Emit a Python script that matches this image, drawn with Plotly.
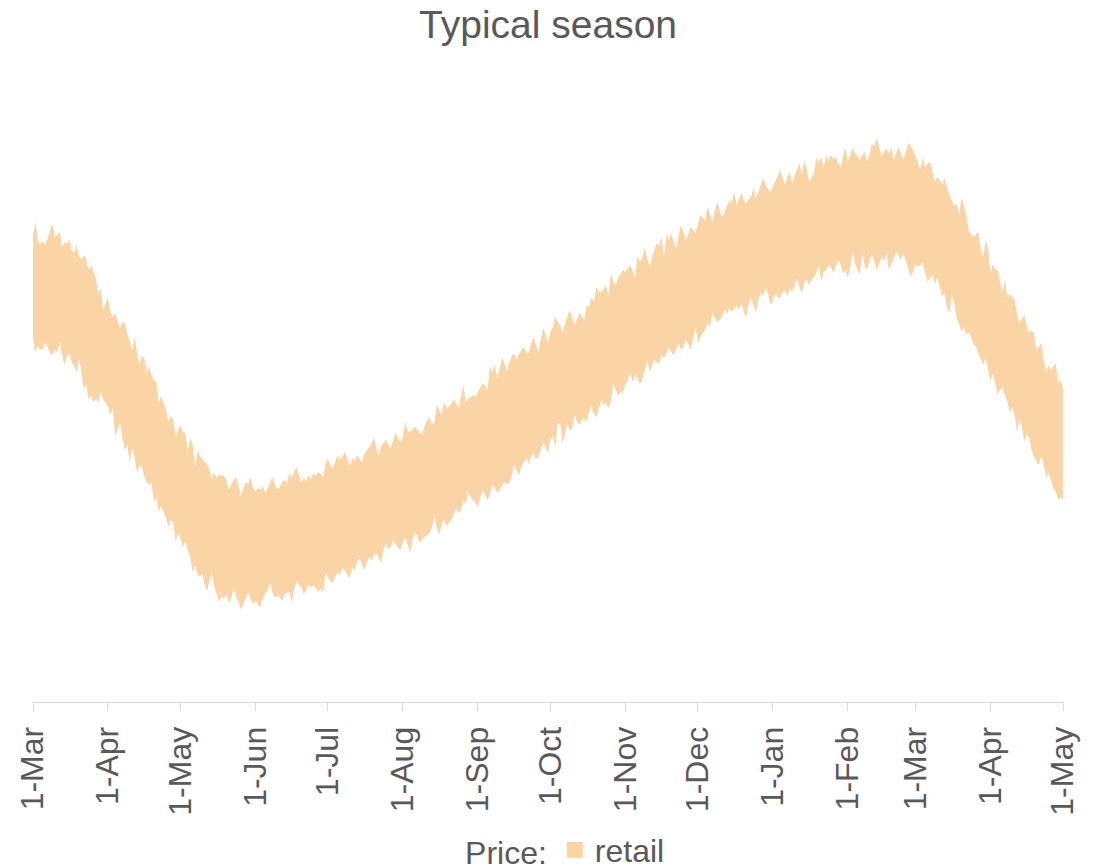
import pandas as pd
import plotly.graph_objects as go

# chart data: daily retail price band (low / high) over one season
START_DATE = '2021-03-01'
END_DATE = '2022-05-01'
SERIES_NAME = 'retail'
LEGEND_TITLE = 'Price:'
CHART_TITLE = 'Typical season'

PRICE_HIGH = [
    467, 480, 462, 458, 461, 457, 463, 470, 478, 465,
    468, 470, 455, 460, 458, 463, 452, 449, 457, 446,
    442, 447, 443, 432, 437, 430, 424, 407, 414, 392,
    398, 404, 390, 385, 389, 381, 374, 380, 379, 368,
    360, 352, 364, 350, 337, 346, 344, 330, 335, 327,
    322, 320, 299, 306, 300, 292, 280, 286, 282, 265,
    272, 277, 270, 269, 250, 264, 258, 235, 252, 246,
    243, 240, 239, 232, 224, 230, 224, 228, 226, 227,
    221, 212, 218, 222, 225, 216, 205, 214, 220, 218,
    225, 215, 210, 214, 212, 216, 209, 213, 220, 225,
    218, 212, 214, 220, 222, 219, 229, 224, 230, 235,
    226, 219, 224, 221, 227, 223, 229, 226, 230, 228,
    225, 238, 244, 236, 234, 240, 247, 242, 246, 250,
    243, 235, 244, 241, 247, 243, 240, 248, 251, 255,
    258, 265, 254, 247, 256, 259, 262, 257, 254, 262,
    269, 264, 259, 266, 280, 271, 270, 273, 275, 272,
    270, 267, 277, 281, 285, 277, 280, 297, 291, 287,
    300, 294, 295, 298, 302, 299, 294, 305, 317, 299,
    304, 305, 307, 305, 310, 314, 319, 316, 312, 335,
    330, 337, 324, 333, 345, 338, 330, 340, 346, 349,
    342, 348, 352, 355, 350, 349, 358, 365, 357, 350,
    362, 374, 368, 359, 370, 375, 385, 380, 377, 370,
    378, 384, 392, 385, 377, 383, 389, 386, 382, 397,
    395, 405, 400, 415, 411, 409, 413, 417, 405, 429,
    420, 417, 424, 428, 432, 430, 434, 437, 431, 424,
    446, 440, 445, 454, 444, 434, 445, 451, 459, 456,
    465, 445, 469, 462, 469, 460, 454, 466, 477, 470,
    462, 468, 475, 472, 469, 478, 487, 484, 482, 495,
    488, 480, 491, 500, 492, 484, 490, 496, 502, 499,
    510, 497, 503, 509, 502, 499, 503, 505, 514, 504,
    510, 516, 524, 518, 513, 510, 515, 520, 526, 532,
    524, 517, 525, 530, 519, 527, 533, 539, 527, 542,
    533, 520, 525, 529, 544, 540, 545, 534, 547, 541,
    547, 543, 545, 538, 535, 546, 555, 540, 548, 554,
    549, 545, 542, 547, 550, 540, 548, 559, 556, 564,
    553, 545, 550, 554, 548, 555, 542, 549, 555, 548,
    542, 550, 559, 556, 552, 546, 539, 532, 545, 535,
    538, 540, 531, 520, 525, 522, 517, 524, 515, 507,
    502, 495, 499, 487, 504, 497, 486, 472, 468, 465,
    468, 470, 452, 445, 462, 454, 429, 438, 433, 432,
    420, 410, 422, 404, 408, 405, 402, 388, 379, 383,
    387, 376, 369, 372, 369, 352, 356, 359, 342, 330,
    337, 333, 335, 339, 319, 322, 314,
]

PRICE_LOW = [
    365, 350, 356, 352, 353, 359, 355, 349, 347, 352,
    349, 360, 348, 337, 345, 349, 340, 336, 329, 343,
    330, 312, 318, 302, 306, 300, 303, 299, 310, 303,
    299, 295, 287, 294, 265, 272, 279, 264, 252, 258,
    239, 254, 245, 229, 236, 235, 226, 220, 217, 220,
    200, 205, 190, 196, 190, 184, 175, 182, 179, 160,
    169, 164, 155, 160, 152, 145, 130, 136, 128, 125,
    128, 117, 110, 122, 129, 115, 108, 100, 106, 103,
    108, 99, 104, 114, 106, 100, 92, 98, 104, 110,
    103, 98, 101, 97, 95, 103, 108, 112, 119, 110,
    104, 107, 105, 101, 108, 109, 110, 99, 113, 121,
    117, 115, 108, 112, 118, 114, 117, 113, 110, 114,
    109, 130, 124, 121, 119, 126, 129, 127, 134, 131,
    128, 124, 135, 131, 140, 144, 138, 132, 139, 145,
    142, 147, 149, 144, 139, 152, 159, 153, 155, 162,
    158, 154, 152, 160, 165, 157, 149, 162, 170, 165,
    159, 163, 165, 167, 169, 175, 185, 174, 167, 178,
    182, 176, 179, 182, 188, 194, 189, 192, 202, 198,
    210, 205, 202, 199, 195, 204, 212, 207, 202, 208,
    217, 214, 209, 212, 216, 220, 218, 219, 226, 237,
    231, 227, 235, 240, 244, 238, 246, 249, 243, 245,
    252, 259, 255, 249, 262, 266, 255, 278, 280, 259,
    268, 279, 271, 274, 287, 280, 277, 282, 284, 280,
    291, 295, 288, 285, 293, 302, 297, 299, 294, 300,
    319, 312, 306, 310, 309, 318, 322, 329, 320, 327,
    324, 318, 322, 331, 342, 330, 336, 342, 340, 338,
    347, 344, 349, 354, 350, 347, 353, 359, 352, 355,
    362, 358, 352, 363, 375, 359, 364, 369, 372, 379,
    375, 389, 384, 380, 382, 386, 392, 388, 394, 390,
    393, 397, 392, 399, 390, 385, 398, 404, 396, 390,
    402, 409, 406, 415, 408, 397, 402, 409, 405, 404,
    410, 412, 406, 414, 410, 416, 425, 414, 409, 420,
    422, 417, 422, 426, 429, 437, 420, 430, 432, 437,
    435, 429, 436, 442, 438, 429, 431, 424, 435, 449,
    438, 432, 427, 450, 436, 432, 441, 449, 440, 432,
    438, 445, 442, 449, 432, 438, 444, 450, 446, 442,
    449, 440, 433, 425, 430, 438, 435, 437, 439, 429,
    420, 424, 427, 418, 424, 416, 405, 409, 395, 389,
    407, 399, 385, 378, 370, 375, 367, 370, 365, 358,
    355, 349, 343, 337, 345, 333, 320, 329, 318, 307,
    312, 315, 306, 300, 289, 295, 287, 269, 284, 274,
    260, 268, 264, 252, 245, 241, 237, 246, 239, 224,
    229, 222, 214, 210, 202, 205, 202,
]

FILL_COLOR = '#FBD4A6'
TEXT_COLOR = '#595959'
AXIS_COLOR = '#D9D9D9'
FONT = 'Arial, "Liberation Sans", sans-serif'

# page body keeps its default 8px margin, so the figure is 8px smaller
FIG_W, FIG_H = 1091, 860

dates = pd.date_range(START_DATE, END_DATE, freq='D')

fig = go.Figure()

# lower edge of the band (invisible line)
fig.add_trace(go.Scatter(
    x=dates, y=PRICE_LOW,
    mode='lines', line=dict(width=0, color=FILL_COLOR),
    showlegend=False, hoverinfo='skip'
))
# upper edge, filled down to the lower edge
fig.add_trace(go.Scatter(
    x=dates, y=PRICE_HIGH,
    mode='lines', line=dict(width=0, color=FILL_COLOR),
    fill='tonexty', fillcolor=FILL_COLOR,
    showlegend=False, hoverinfo='skip'
))
# legend swatch only
fig.add_trace(go.Scatter(
    x=[None], y=[None], mode='markers', name=SERIES_NAME,
    marker=dict(symbol='square', size=17, color=FILL_COLOR)
))

fig.update_layout(
    width=FIG_W, height=FIG_H,
    margin=dict(l=25, r=36, t=94, b=166, autoexpand=False),
    paper_bgcolor='white', plot_bgcolor='white',
    font=dict(family=FONT, color=TEXT_COLOR),
    title=dict(
        text=CHART_TITLE, x=0.495, xanchor='center',
        y=1 - 16 / FIG_H, yanchor='middle', yref='container',
        font=dict(family=FONT, size=39, color=TEXT_COLOR)
    ),
    legend=dict(
        orientation='h', x=0.518, xanchor='center',
        y=18 / FIG_H, yanchor='middle', yref='container',
        title=dict(text=LEGEND_TITLE, side='left', font=dict(family=FONT, size=32)),
        font=dict(family=FONT, size=32, color=TEXT_COLOR),
        itemwidth=30, bgcolor='rgba(0,0,0,0)'
    ),
    showlegend=True,
    hovermode=False
)

fig.update_xaxes(
    range=[START_DATE, END_DATE],
    tick0=START_DATE, dtick='M1', tickformat='%-d-%b',
    tickangle=-90, tickfont=dict(family=FONT, size=32, color=TEXT_COLOR),
    ticks='outside', ticklen=8, tickcolor=AXIS_COLOR, tickwidth=1,
    ticklabelstandoff=3,
    showline=True, linecolor=AXIS_COLOR, linewidth=1,
    showgrid=False, zeroline=False, automargin=False
)
fig.update_yaxes(range=[0, 600], visible=False, showgrid=False)

fig.write_html('out.html')
